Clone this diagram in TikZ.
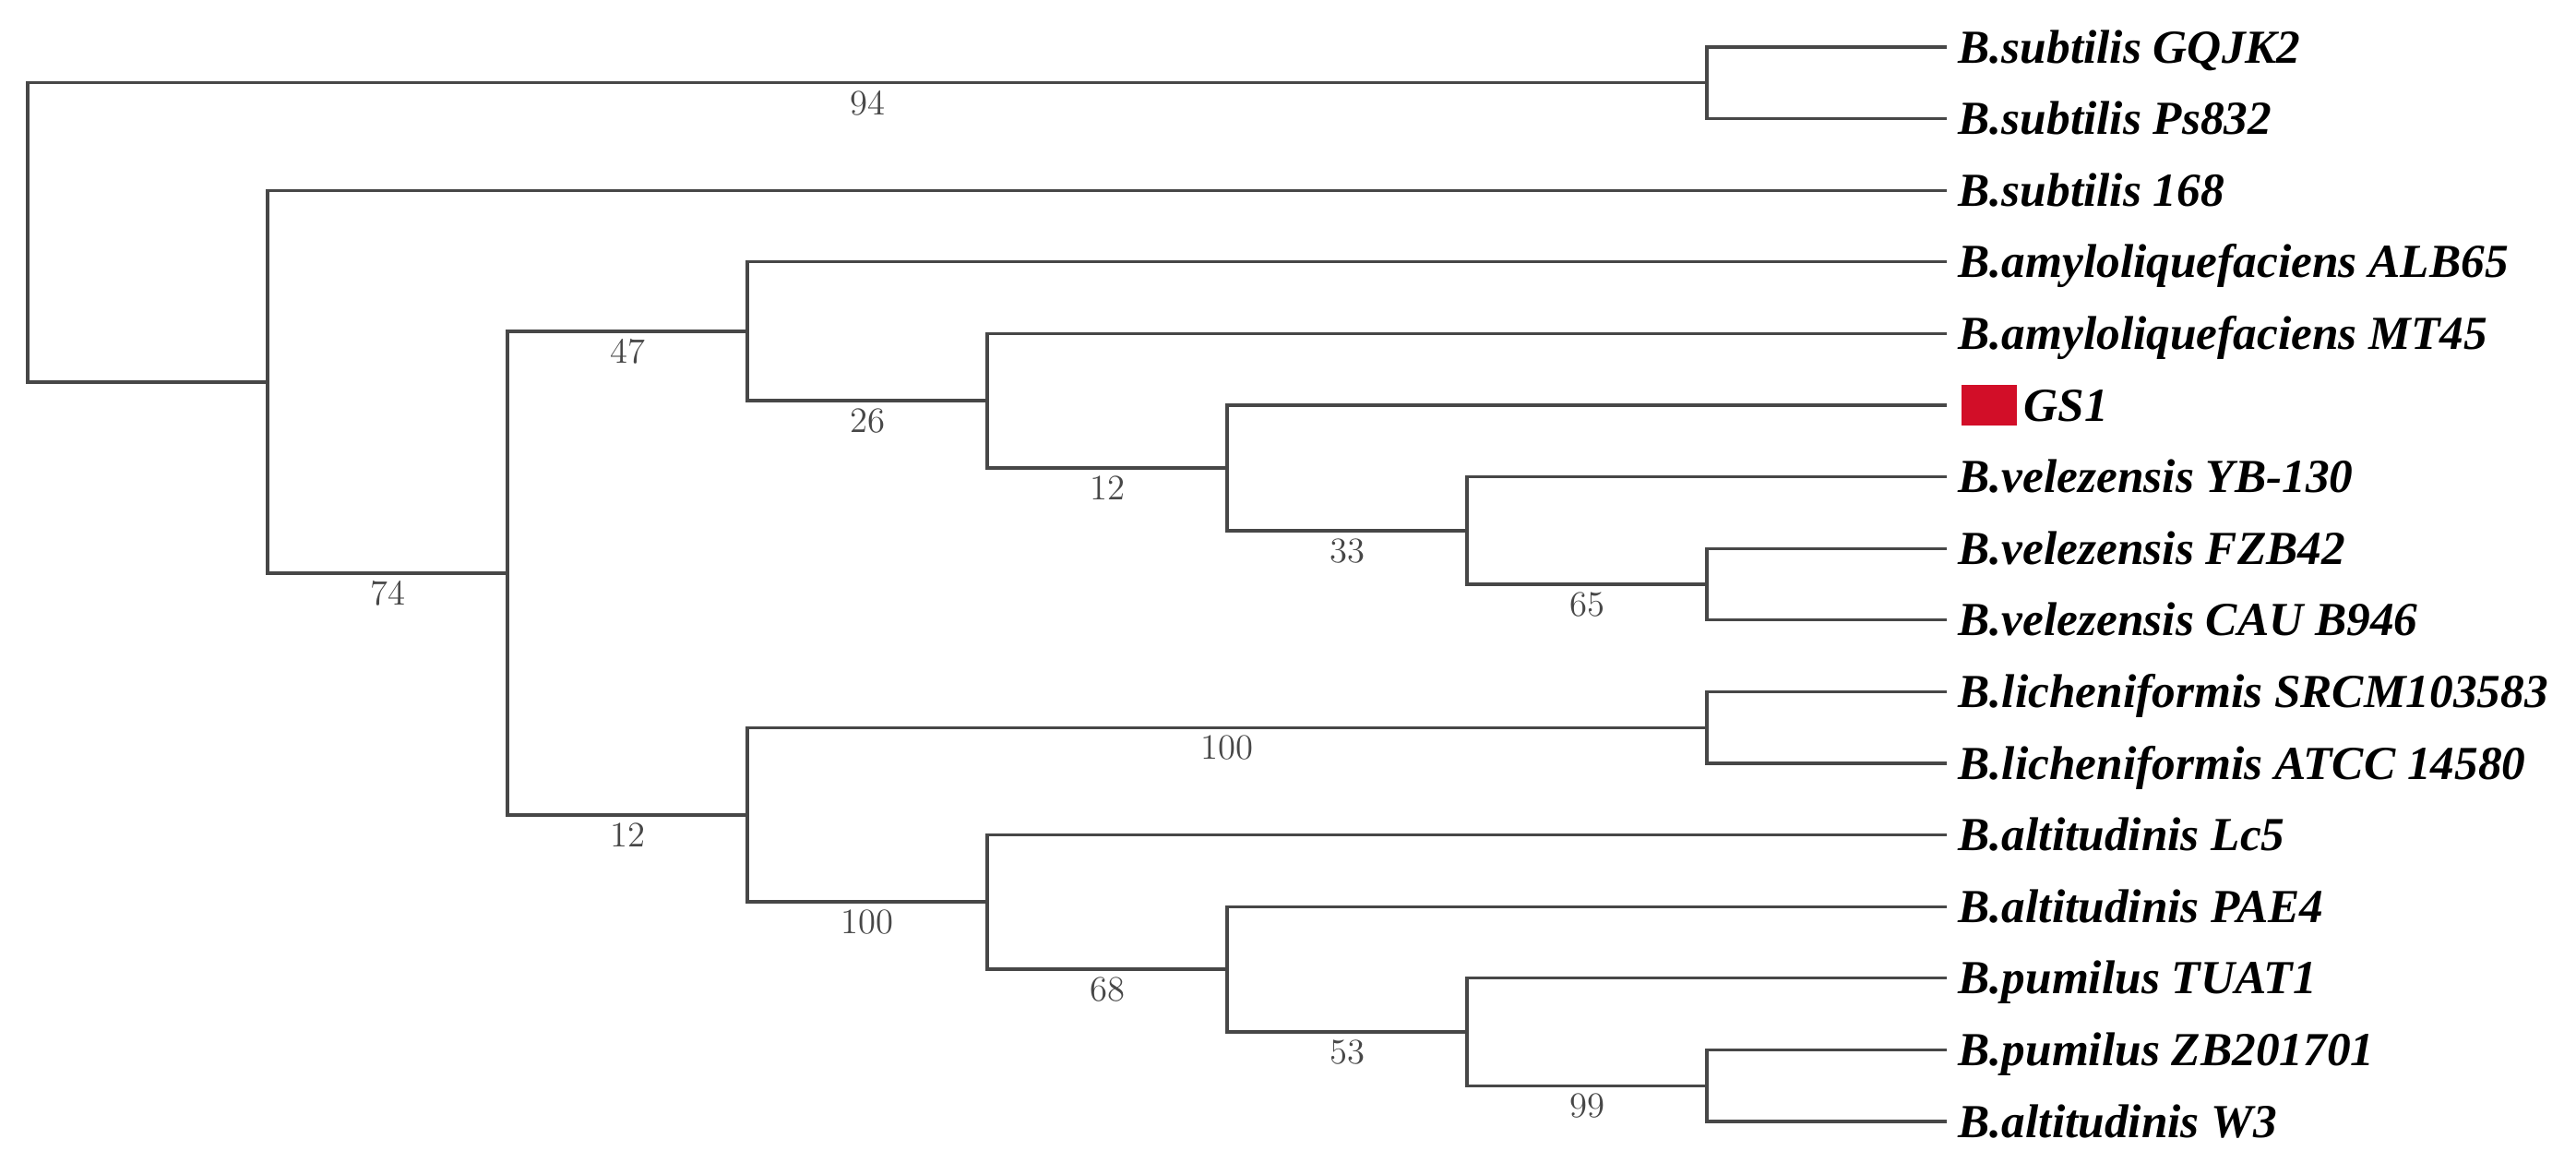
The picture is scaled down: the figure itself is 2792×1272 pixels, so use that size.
\documentclass[tikz,border=0pt]{standalone}
\usepackage{fontspec}
\newfontfamily\lblfont{Liberation Serif}
\definecolor{gsred}{RGB}{210,14,40}
\begin{document}
\begin{tikzpicture}[x=0.01cm,y=-0.01cm,
  br/.style={draw=black!72, line width=0.9pt},
  leaf/.style={anchor=base west, inner sep=0pt, text=black, font=\lblfont\bfseries\itshape\fontsize{14.6}{16}\selectfont},
  bs/.style={anchor=north, inner sep=0pt, text=black!72, font=\fontsize{11}{12}\selectfont}]
\fill[white] (0,0) rectangle (2792,1272);
\useasboundingbox (0,0) rectangle (2792,1272);
% tips
\coordinate (t0) at (2110,51);
\coordinate (t1) at (2110,128.6);
\coordinate (t2) at (2110,206.2);
\coordinate (t3) at (2110,283.8);
\coordinate (t4) at (2110,361.4);
\coordinate (t5) at (2110,439);
\coordinate (t6) at (2110,516.6);
\coordinate (t7) at (2110,594.2);
\coordinate (t8) at (2110,671.8);
\coordinate (t9) at (2110,749.4);
\coordinate (t10) at (2110,827);
\coordinate (t11) at (2110,904.6);
\coordinate (t12) at (2110,982.2);
\coordinate (t13) at (2110,1059.8);
\coordinate (t14) at (2110,1137.4);
\coordinate (t15) at (2110,1215);
% internal nodes
\coordinate (root) at (30,252);
\coordinate (n94) at (1850,89.8);
\coordinate (nA) at (290,414);
\coordinate (nB) at (550,621);
\coordinate (nC) at (810,359);
\coordinate (nD) at (1070,434);
\coordinate (nE) at (1330,507);
\coordinate (nF) at (1590,575);
\coordinate (nG) at (1850,633);
\coordinate (nH) at (810,883);
\coordinate (nI) at (1850,788.2);
\coordinate (nJ) at (1070,977);
\coordinate (nK) at (1330,1050);
\coordinate (nL) at (1590,1118);
\coordinate (nM) at (1850,1176.2);
% branches
\draw[br] (root) |- (n94);
\draw[br] (root) |- (nA);
\draw[br] (n94) |- (t0);
\draw[br] (n94) |- (t1);
\draw[br] (nA) |- (t2);
\draw[br] (nA) |- (nB);
\draw[br] (nB) |- (nC);
\draw[br] (nB) |- (nH);
\draw[br] (nC) |- (t3);
\draw[br] (nC) |- (nD);
\draw[br] (nD) |- (t4);
\draw[br] (nD) |- (nE);
\draw[br] (nE) |- (t5);
\draw[br] (nE) |- (nF);
\draw[br] (nF) |- (t6);
\draw[br] (nF) |- (nG);
\draw[br] (nG) |- (t7);
\draw[br] (nG) |- (t8);
\draw[br] (nH) |- (nI);
\draw[br] (nH) |- (nJ);
\draw[br] (nI) |- (t9);
\draw[br] (nI) |- (t10);
\draw[br] (nJ) |- (t11);
\draw[br] (nJ) |- (nK);
\draw[br] (nK) |- (t12);
\draw[br] (nK) |- (nL);
\draw[br] (nL) |- (t13);
\draw[br] (nL) |- (nM);
\draw[br] (nM) |- (t14);
\draw[br] (nM) |- (t15);
% support values
\node[bs] (b94) at (940,97.8) {94};
\node[bs] (b74) at (420,629) {74};
\node[bs] (b47) at (680,367) {47};
\node[bs] (b26) at (940,442) {26};
\node[bs] (b12a) at (1200,515) {12};
\node[bs] (b33) at (1460,583) {33};
\node[bs] (b65) at (1720,641) {65};
\node[bs] (b12b) at (680,891) {12};
\node[bs] (b100a) at (1330,796.2) {100};
\node[bs] (b100b) at (940,985) {100};
\node[bs] (b68) at (1200,1058) {68};
\node[bs] (b53) at (1460,1126) {53};
\node[bs] (b99) at (1720,1184.2) {99};
% leaf labels
\node[leaf] (s0) at (2122,68) {B.subtilis GQJK2};
\node[leaf] (s1) at (2122,145.6) {B.subtilis Ps832};
\node[leaf] (s2) at (2122,223.2) {B.subtilis 168};
\node[leaf] (s3) at (2122,300.8) {B.amyloliquefaciens ALB65};
\node[leaf] (s4) at (2122,378.4) {B.amyloliquefaciens MT45};
\node[anchor=west, fill=gsred, inner sep=0pt, minimum width=0.6cm, minimum height=0.44cm] (sq) at (2125,439) {};
\node[leaf] (s5) at (2193,456) {GS1};
\node[leaf] (s6) at (2122,533.6) {B.velezensis YB-130};
\node[leaf] (s7) at (2122,611.2) {B.velezensis FZB42};
\node[leaf] (s8) at (2122,688.8) {B.velezensis CAU B946};
\node[leaf] (s9) at (2122,766.4) {B.licheniformis SRCM103583};
\node[leaf] (s10) at (2122,844) {B.licheniformis ATCC 14580};
\node[leaf] (s11) at (2122,921.6) {B.altitudinis Lc5};
\node[leaf] (s12) at (2122,999.2) {B.altitudinis PAE4};
\node[leaf] (s13) at (2122,1076.8) {B.pumilus TUAT1};
\node[leaf] (s14) at (2122,1154.4) {B.pumilus ZB201701};
\node[leaf] (s15) at (2122,1232) {B.altitudinis W3};
\end{tikzpicture}
\end{document}
